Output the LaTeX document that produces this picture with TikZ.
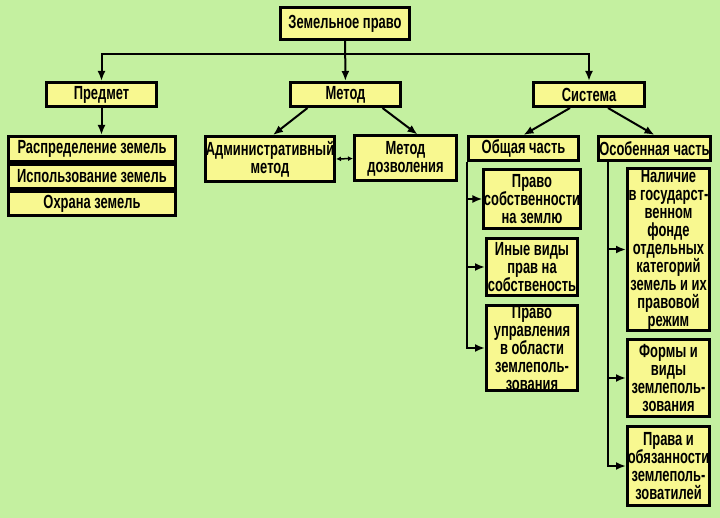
\documentclass[tikz,border=0pt]{standalone}
\usepackage{fontspec}
\setmainfont{Liberation Sans}[FakeStretch=0.68]
\usetikzlibrary{arrows.meta}
\definecolor{fon}{RGB}{196,240,160}
\definecolor{zhelt}{RGB}{248,248,144}
\begin{document}
\begin{tikzpicture}[x=1pt, y=-1pt,
    blok/.style={draw, line width=3pt, fill=zhelt, align=center, inner sep=0pt,
        font=\fontsize{19}{18}\selectfont\bfseries},
    strelka/.style={line width=2pt, -{Latex[length=10pt,width=8pt]}}]

    % Фон
    \fill[fon] (0,0) rectangle (720,518);
    \useasboundingbox (0,0) rectangle (720,518);

    % Верхние уровни
    \node[blok, minimum width=129, minimum height=32] (zemlpravo) at (345,23.5) {Земельное право};
    \node[blok, minimum width=110, minimum height=24] (predmet) at (101.5,94.5) {Предмет};
    \node[blok, minimum width=110, minimum height=24] (metod) at (345.5,94.5) {Метод};
    \node[blok, minimum width=111, minimum height=24] (sistema) at (589,94.5) {Система};

    % Предмет
    \node[blok, minimum width=167, minimum height=25] (raspr) at (92,149) {Распределение земель};
    \node[blok, minimum width=167, minimum height=24] (ispolz) at (92,176.5) {Использование земель};
    \node[blok, minimum width=167, minimum height=24] (ohrana) at (92,203.5) {Охрана земель};

    % Метод
    \node[blok, minimum width=129, minimum height=45] (admin) at (270,159) {Административный\\метод};
    \node[blok, minimum width=102, minimum height=45] (dozvol) at (405.5,158.5) {Метод\\дозволения};

    % Система
    \node[blok, minimum width=110, minimum height=24] (obshch) at (523.5,148.5) {Общая часть};
    \node[blok, minimum width=112, minimum height=24] (osob) at (654.5,148.5) {Особенная часть};

    \node[blok, minimum width=91, minimum height=59] (prsob) at (532,199) {Право\\собственности\\на землю};
    \node[blok, minimum width=91, minimum height=57] (inye) at (532,267) {Иные виды\\прав на\\собственость};
    \node[blok, minimum width=91, minimum height=85] (upr) at (532,348) {Право\\управления\\в области\\землеполь-\\зования};

    \node[blok, minimum width=82, minimum height=160] (nalich) at (668.5,249.5) {Наличие\\в государст-\\венном\\фонде\\отдельных\\категорий\\земель и их\\правовой\\режим};
    \node[blok, minimum width=82, minimum height=77] (formy) at (668.5,378) {Формы и\\виды\\землеполь-\\зования};
    \node[blok, minimum width=82, minimum height=79] (prava) at (668.5,466) {Права и\\обязанности\\землеполь-\\зоватилей};

    % Стрелки
    \coordinate (vetv) at (345,54);
    \draw[strelka] (zemlpravo) -- (metod);
    \draw[strelka] (vetv) -| (predmet);
    \draw[strelka] (vetv) -| (sistema);

    \draw[strelka] (predmet.south) -- (predmet.south |- raspr.north);

    \draw[strelka] ([xshift=-38pt]metod.south) -- ([xshift=3pt]admin.north);
    \draw[strelka] ([xshift=37pt]metod.south) -- ([xshift=12pt]dozvol.north);
    \draw[line width=1.5pt, {Latex[length=5pt,width=5pt]}-{Latex[length=5pt,width=5pt]}] (admin.east) -- (dozvol.west);

    \draw[strelka] ([xshift=-19pt]sistema.south) -- (obshch.north);
    \draw[strelka] ([xshift=19pt]sistema.south) -- (osob.north);

    \foreach \n in {prsob,inye,upr}
        \draw[strelka] (obshch.south west) |- (\n.west);

    \coordinate (osobniz) at ([xshift=11pt]osob.south west);
    \foreach \n in {nalich,formy,prava}
        \draw[strelka] (osobniz) |- (\n.west);

\end{tikzpicture}
\end{document}
